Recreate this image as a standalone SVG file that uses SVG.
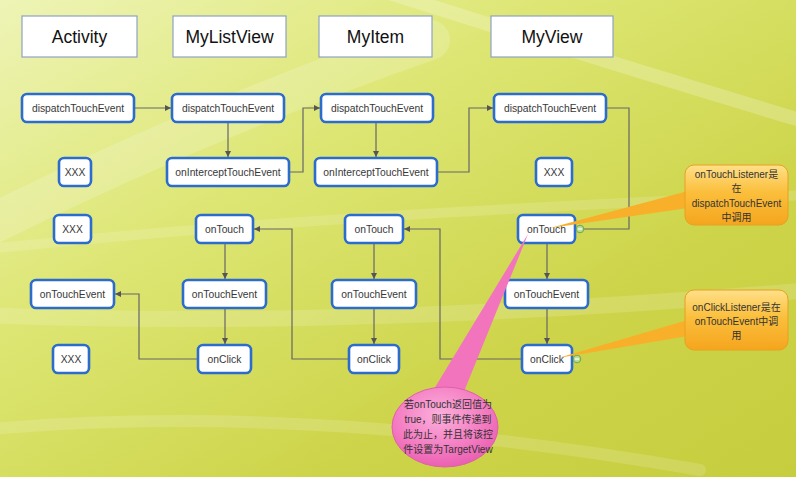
<svg xmlns="http://www.w3.org/2000/svg" width="796" height="477" viewBox="0 0 796 477">
<defs>
<linearGradient id="bg" x1="0" y1="0" x2="1" y2="1">
<stop offset="0" stop-color="#eef4b6"/>
<stop offset="0.35" stop-color="#dde673"/>
<stop offset="0.7" stop-color="#cdd449"/>
<stop offset="1" stop-color="#c6cd3e"/>
</linearGradient>
<linearGradient id="org" x1="0" y1="0" x2="0" y2="1">
<stop offset="0" stop-color="#ffe08a"/>
<stop offset="0.45" stop-color="#fbbf3c"/>
<stop offset="1" stop-color="#f5a51e"/>
</linearGradient>
<radialGradient id="pnk" cx="0.45" cy="0.35" r="0.7">
<stop offset="0" stop-color="#fbb0dc"/>
<stop offset="0.6" stop-color="#f47cc2"/>
<stop offset="1" stop-color="#e85aae"/>
</radialGradient>
<marker id="arr" viewBox="0 0 6 6" refX="6" refY="3" markerWidth="6" markerHeight="6" markerUnits="userSpaceOnUse" orient="auto">
<path d="M0,0 L6,3 L0,6 z" fill="#555"/>
</marker>
<style>
.hdr rect{fill:#fff;stroke:#8ea2c4;stroke-width:1.2}
.hdr text{font-family:"Liberation Sans",Arial,sans-serif;font-size:17.5px;fill:#111;text-anchor:middle}
.nd rect{fill:#fff;stroke:#2b6ccc;stroke-width:2.6}
.nd text{font-family:"Liberation Sans",Arial,sans-serif;font-size:10.3px;fill:#383838;text-anchor:middle}
.cn path{fill:none;stroke:#666;stroke-width:1.2}
.ct{font-family:"Liberation Sans","Noto Sans CJK SC",sans-serif;font-size:10px;fill:#333;text-anchor:middle}
.sw{fill:none;stroke:#ffffff;stroke-linecap:round}
</style>
</defs>
<rect x="0" y="0" width="796" height="477" fill="url(#bg)"/>
<g id="background-swooshes">
<path class="sw" d="M-20,230 Q200,120 430,40" stroke-width="40" stroke-opacity="0.18"/>
<path class="sw" d="M380,-10 Q600,60 800,120" stroke-width="14" stroke-opacity="0.22"/>
<path class="sw" d="M-20,250 Q300,215 810,195" stroke-width="10" stroke-opacity="0.15"/>
<path class="sw" d="M-20,315 Q350,330 810,290" stroke-width="16" stroke-opacity="0.15"/>
<path class="sw" d="M-20,430 Q300,400 700,470" stroke-width="12" stroke-opacity="0.15"/>
</g>
<g id="headers" class="hdr">
<g id="h-activity"><rect x="22" y="16" width="115" height="41"/><text x="79.5" y="43">Activity</text></g>
<g id="h-mylistview"><rect x="173" y="16" width="113" height="41"/><text x="229.5" y="43">MyListView</text></g>
<g id="h-myitem"><rect x="319" y="16" width="113" height="41"/><text x="375.5" y="43">MyItem</text></g>
<g id="h-myview"><rect x="491" y="16" width="122" height="41"/><text x="552" y="43">MyView</text></g>
</g>
<g id="connectors" class="cn">
<path d="M134,108 H171" marker-end="url(#arr)"/>
<path d="M228,122 V157" marker-end="url(#arr)"/>
<path d="M289,172 H303 V108 H320" marker-end="url(#arr)"/>
<path d="M376,122 V157" marker-end="url(#arr)"/>
<path d="M437,172 H469 V108 H493" marker-end="url(#arr)"/>
<path d="M606,108 H629 V229 H583"/>
<path d="M547,243 V279" marker-end="url(#arr)"/>
<path d="M547,308 V344" marker-end="url(#arr)"/>
<path d="M522,359 H440 V229 H404" marker-end="url(#arr)"/>
<path d="M374,243 V279" marker-end="url(#arr)"/>
<path d="M374,308 V344" marker-end="url(#arr)"/>
<path d="M349,359 H292 V229 H254" marker-end="url(#arr)"/>
<path d="M225,243 V279" marker-end="url(#arr)"/>
<path d="M225,308 V344" marker-end="url(#arr)"/>
<path d="M198,359 H139 V294 H115" marker-end="url(#arr)"/>
</g>
<g class="nd">
<g id="act-dispatch"><rect x="22" y="94" width="112" height="28" rx="5"/><text x="78" y="112">dispatchTouchEvent</text></g>
<g id="act-xxx1"><rect x="59" y="158" width="32" height="28" rx="5"/><text x="75" y="176">XXX</text></g>
<g id="act-xxx2"><rect x="54" y="215" width="37" height="28" rx="5"/><text x="72.5" y="233">XXX</text></g>
<g id="act-ontouchevent"><rect x="31" y="280" width="83" height="28" rx="5"/><text x="72.5" y="298">onTouchEvent</text></g>
<g id="act-xxx3"><rect x="53" y="345" width="36" height="28" rx="5"/><text x="71" y="363">XXX</text></g>
<g id="lv-dispatch"><rect x="172" y="94" width="112" height="28" rx="5"/><text x="228" y="112">dispatchTouchEvent</text></g>
<g id="lv-intercept"><rect x="167" y="158" width="122" height="28" rx="5"/><text x="228" y="176">onInterceptTouchEvent</text></g>
<g id="lv-ontouch"><rect x="196" y="215" width="57" height="28" rx="5"/><text x="224.5" y="233">onTouch</text></g>
<g id="lv-ontouchevent"><rect x="183" y="280" width="83" height="28" rx="5"/><text x="224.5" y="298">onTouchEvent</text></g>
<g id="lv-onclick"><rect x="198" y="345" width="53" height="28" rx="5"/><text x="224.5" y="363">onClick</text></g>
<g id="item-dispatch"><rect x="321" y="94" width="112" height="28" rx="5"/><text x="377" y="112">dispatchTouchEvent</text></g>
<g id="item-intercept"><rect x="315" y="158" width="122" height="28" rx="5"/><text x="376" y="176">onInterceptTouchEvent</text></g>
<g id="item-ontouch"><rect x="345" y="215" width="58" height="28" rx="5"/><text x="374" y="233">onTouch</text></g>
<g id="item-ontouchevent"><rect x="332" y="280" width="84" height="28" rx="5"/><text x="374" y="298">onTouchEvent</text></g>
<g id="item-onclick"><rect x="349" y="345" width="50" height="28" rx="5"/><text x="374" y="363">onClick</text></g>
<g id="view-dispatch"><rect x="494" y="94" width="112" height="28" rx="5"/><text x="550" y="112">dispatchTouchEvent</text></g>
<g id="view-xxx"><rect x="536" y="158" width="36" height="28" rx="5"/><text x="554" y="176">XXX</text></g>
<g id="view-ontouch"><rect x="518" y="215" width="57" height="28" rx="5"/><text x="546.5" y="233">onTouch</text></g>
<g id="view-ontouchevent"><rect x="505" y="280" width="83" height="28" rx="5"/><text x="546.5" y="298">onTouchEvent</text></g>
<g id="view-onclick"><rect x="522" y="345" width="50" height="28" rx="5"/><text x="547" y="363">onClick</text></g>
</g>
<g id="collapse-icons">
<g><circle cx="580" cy="229" r="3.8" fill="#b9dc94" stroke="#6aa84f" stroke-width="1"/><path d="M578,229 H582" stroke="#fff" stroke-width="1.2"/></g>
<g><circle cx="577" cy="359" r="3.8" fill="#b9dc94" stroke="#6aa84f" stroke-width="1"/><path d="M575,359 H579" stroke="#fff" stroke-width="1.2"/></g>
</g>
<g id="callout-ontouchlistener">
<polygon points="688,191 688,208 550,228" fill="#f8b02a"/>
<rect x="685" y="165" width="103" height="60" rx="9" fill="url(#org)" stroke="#e8a020" stroke-width="1"/>
<text class="ct" x="736.5" y="178">onTouchListener是</text>
<text class="ct" x="736.5" y="192">在</text>
<text class="ct" x="736.5" y="207">dispatchTouchEvent</text>
<text class="ct" x="736.5" y="221">中调用</text>
</g>
<g id="callout-onclicklistener">
<polygon points="688,320 688,336 558,358" fill="#f8b02a"/>
<rect x="685" y="290" width="103" height="60" rx="9" fill="url(#org)" stroke="#e8a020" stroke-width="1"/>
<text class="ct" x="736.5" y="311">onClickListener是在</text>
<text class="ct" x="736.5" y="325">onTouchEvent中调</text>
<text class="ct" x="736.5" y="339">用</text>
</g>
<g id="callout-targetview">
<polygon points="431,394 463,394 528,234" fill="#f274bd"/>
<ellipse cx="445" cy="427" rx="53" ry="40" fill="url(#pnk)" stroke="#e060a8" stroke-width="1"/>
<text class="ct" x="448" y="408">若onTouch返回值为</text>
<text class="ct" x="448" y="423">true，则事件传递到</text>
<text class="ct" x="448" y="438">此为止，并且将该控</text>
<text class="ct" x="448" y="453">件设置为TargetView</text>
</g>
</svg>
